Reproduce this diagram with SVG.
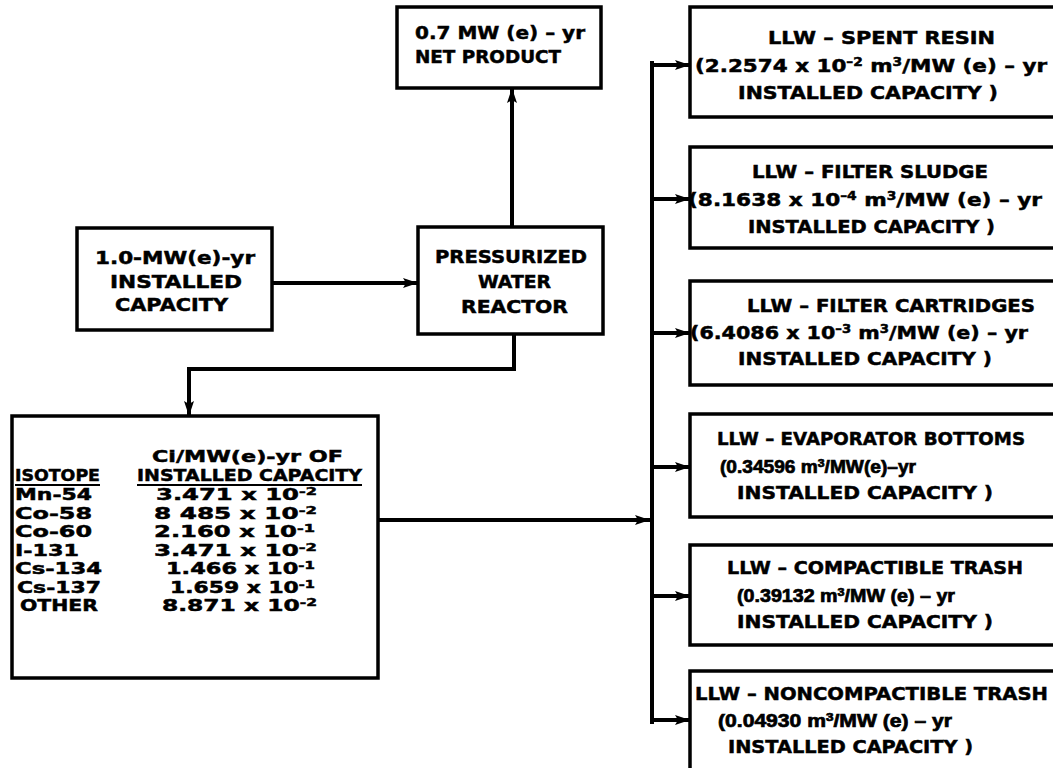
<svg xmlns="http://www.w3.org/2000/svg" width="1053" height="768" viewBox="0 0 1053 768">
<defs>
<marker id="ah" markerUnits="userSpaceOnUse" markerWidth="16" markerHeight="12" refX="15" refY="6" orient="auto">
<path d="M0,1 L15,6 L0,11 L3,6 z" fill="#000"/>
</marker>
<style>
.box{fill:#fff;stroke:#000;stroke-width:3.5}
.ln{fill:none;stroke:#000;stroke-width:4}
text{font-family:"DejaVu Sans","Liberation Sans",sans-serif;font-weight:bold;fill:#000;stroke:#000;stroke-width:0.5}
.lib{font-family:"Liberation Sans","DejaVu Sans",sans-serif;stroke-width:0.7}
.t18{font-size:18px}
.t16{font-size:16.5px}
.sup{font-size:11.5px}
.sup11{font-size:11px}
.ul{stroke:#000;stroke-width:2}
</style>
</defs>
<rect width="1053" height="768" fill="#fff"/>

<g id="connectors">
<path class="ln" d="M272,283 H418" marker-end="url(#ah)"/>
<path class="ln" d="M512,227 V88" marker-end="url(#ah)"/>
<path class="ln" d="M514,334 V369 H189 V416" marker-end="url(#ah)"/>
<path class="ln" d="M378,520 H650" marker-end="url(#ah)"/>
<path class="ln" d="M652,63 V722" stroke-linecap="square"/>
<path class="ln" d="M650,65 H690" marker-end="url(#ah)"/>
<path class="ln" d="M650,199 H690" marker-end="url(#ah)"/>
<path class="ln" d="M650,333 H690" marker-end="url(#ah)"/>
<path class="ln" d="M650,467 H690" marker-end="url(#ah)"/>
<path class="ln" d="M650,596 H690" marker-end="url(#ah)"/>
<path class="ln" d="M650,720 H690" marker-end="url(#ah)"/>
</g>

<g id="net-product">
<rect class="box" x="397" y="7" width="204" height="81"/>
<text class="t18" x="415" y="39" textLength="170" lengthAdjust="spacingAndGlyphs">0.7 MW (e) – yr</text>
<text class="t18" x="415" y="63" textLength="146" lengthAdjust="spacingAndGlyphs">NET PRODUCT</text>
</g>

<g id="installed-capacity">
<rect class="box" x="77" y="228" width="195" height="102"/>
<text class="t18" x="95" y="264" textLength="160" lengthAdjust="spacingAndGlyphs">1.0-MW(e)-yr</text>
<text class="t18" x="110" y="288" textLength="132" lengthAdjust="spacingAndGlyphs">INSTALLED</text>
<text class="t18" x="115" y="311" textLength="113" lengthAdjust="spacingAndGlyphs">CAPACITY</text>
</g>

<g id="pwr">
<rect class="box" x="418" y="227" width="185" height="107"/>
<text class="t18" x="435" y="263" textLength="152" lengthAdjust="spacingAndGlyphs">PRESSURIZED</text>
<text class="t18" x="478" y="288" textLength="73" lengthAdjust="spacingAndGlyphs">WATER</text>
<text class="t18" x="461" y="313" textLength="107" lengthAdjust="spacingAndGlyphs">REACTOR</text>
</g>

<g id="isotope-table">
<rect class="box" x="12" y="416" width="366" height="262"/>
<text class="t16" x="152" y="462" textLength="191" lengthAdjust="spacingAndGlyphs">Ci/MW(e)-yr OF</text>
<text class="t16" x="15" y="481" textLength="85" lengthAdjust="spacingAndGlyphs">ISOTOPE</text>
<text class="t16" x="137" y="481" textLength="225" lengthAdjust="spacingAndGlyphs">INSTALLED CAPACITY</text>
<line class="ul" x1="15" y1="485" x2="100" y2="485"/>
<line class="ul" x1="137" y1="485" x2="362" y2="485"/>
<text class="t16" x="15" y="500" textLength="77" lengthAdjust="spacingAndGlyphs">Mn-54</text>
<text class="t16" x="15" y="518.5" textLength="77" lengthAdjust="spacingAndGlyphs">Co-58</text>
<text class="t16" x="15" y="537" textLength="77" lengthAdjust="spacingAndGlyphs">Co-60</text>
<text class="t16" x="15" y="555.5" textLength="64" lengthAdjust="spacingAndGlyphs">I-131</text>
<text class="t16" x="15" y="574" textLength="87" lengthAdjust="spacingAndGlyphs">Cs-134</text>
<text class="t16" x="17" y="592.5" textLength="84" lengthAdjust="spacingAndGlyphs">Cs-137</text>
<text class="t16" x="20" y="611" textLength="78" lengthAdjust="spacingAndGlyphs">OTHER</text>
<text class="t16" x="156" y="500" textLength="161" lengthAdjust="spacingAndGlyphs">3.471 x 10<tspan class="sup11" dy="-5">-2</tspan></text>
<text class="t16" x="154" y="518.5" textLength="163" lengthAdjust="spacingAndGlyphs">8 485 x 10<tspan class="sup11" dy="-5">-2</tspan></text>
<text class="t16" x="154" y="537" textLength="161" lengthAdjust="spacingAndGlyphs">2.160 x 10<tspan class="sup11" dy="-5">-1</tspan></text>
<text class="t16" x="154" y="555.5" textLength="163" lengthAdjust="spacingAndGlyphs">3.471 x 10<tspan class="sup11" dy="-5">-2</tspan></text>
<text class="t16" x="166" y="574" textLength="149" lengthAdjust="spacingAndGlyphs">1.466 x 10<tspan class="sup11" dy="-5">-1</tspan></text>
<text class="t16" x="170" y="592.5" textLength="145" lengthAdjust="spacingAndGlyphs">1.659 x 10<tspan class="sup11" dy="-5">-1</tspan></text>
<text class="t16" x="162" y="611" textLength="155" lengthAdjust="spacingAndGlyphs">8.871 x 10<tspan class="sup11" dy="-5">-2</tspan></text>
</g>

<g id="llw-spent-resin">
<rect class="box" x="690" y="7" width="380" height="110"/>
<text class="t18" x="768" y="44" textLength="227" lengthAdjust="spacingAndGlyphs">LLW – SPENT RESIN</text>
<text class="t18" x="695" y="72" textLength="352" lengthAdjust="spacingAndGlyphs">(2.2574 x 10<tspan class="sup" dy="-6">–2</tspan><tspan dy="6"> m</tspan><tspan class="sup" dy="-6">3</tspan><tspan dy="6">/MW (e) – yr</tspan></text>
<text class="t18" x="738" y="99" textLength="260" lengthAdjust="spacingAndGlyphs">INSTALLED CAPACITY )</text>
</g>

<g id="llw-filter-sludge">
<rect class="box" x="690" y="147" width="380" height="101"/>
<text class="t18" x="752" y="178" textLength="236" lengthAdjust="spacingAndGlyphs">LLW – FILTER SLUDGE</text>
<text class="t18" x="688" y="206" textLength="354" lengthAdjust="spacingAndGlyphs">(8.1638 x 10<tspan class="sup" dy="-6">–4</tspan><tspan dy="6"> m</tspan><tspan class="sup" dy="-6">3</tspan><tspan dy="6">/MW (e) – yr</tspan></text>
<text class="t18" x="748" y="233" textLength="247" lengthAdjust="spacingAndGlyphs">INSTALLED CAPACITY )</text>
</g>

<g id="llw-filter-cartridges">
<rect class="box" x="690" y="281" width="380" height="104"/>
<text class="t18" x="747" y="312" textLength="288" lengthAdjust="spacingAndGlyphs">LLW – FILTER CARTRIDGES</text>
<text class="t18" x="690" y="339" textLength="338" lengthAdjust="spacingAndGlyphs">(6.4086 x 10<tspan class="sup" dy="-6">–3</tspan><tspan dy="6"> m</tspan><tspan class="sup" dy="-6">3</tspan><tspan dy="6">/MW (e) – yr</tspan></text>
<text class="t18" x="738" y="365" textLength="254" lengthAdjust="spacingAndGlyphs">INSTALLED CAPACITY )</text>
</g>

<g id="llw-evaporator-bottoms">
<rect class="box" x="690" y="414" width="380" height="103"/>
<text class="t18" x="717" y="445" textLength="308" lengthAdjust="spacingAndGlyphs">LLW – EVAPORATOR BOTTOMS</text>
<text class="t18 lib" x="720" y="473" textLength="196" lengthAdjust="spacingAndGlyphs">(0.34596 m<tspan class="sup" dy="-6">3</tspan><tspan dy="6">/MW(e)–yr</tspan></text>
<text class="t18" x="737" y="499" textLength="256" lengthAdjust="spacingAndGlyphs">INSTALLED CAPACITY )</text>
</g>

<g id="llw-compactible-trash">
<rect class="box" x="690" y="545" width="380" height="100"/>
<text class="t18" x="727" y="574" textLength="296" lengthAdjust="spacingAndGlyphs">LLW – COMPACTIBLE TRASH</text>
<text class="t18 lib" x="737" y="602" textLength="218" lengthAdjust="spacingAndGlyphs">(0.39132 m<tspan class="sup" dy="-6">3</tspan><tspan dy="6">/MW (e) – yr</tspan></text>
<text class="t18" x="737" y="628" textLength="256" lengthAdjust="spacingAndGlyphs">INSTALLED CAPACITY )</text>
</g>

<g id="llw-noncompactible-trash">
<rect class="box" x="690" y="671" width="380" height="120"/>
<text class="t18" x="695" y="700" textLength="353" lengthAdjust="spacingAndGlyphs">LLW – NONCOMPACTIBLE TRASH</text>
<text class="t18 lib" x="718" y="727" textLength="234" lengthAdjust="spacingAndGlyphs">(0.04930 m<tspan class="sup" dy="-6">3</tspan><tspan dy="6">/MW (e) – yr</tspan></text>
<text class="t18" x="728" y="753" textLength="245" lengthAdjust="spacingAndGlyphs">INSTALLED CAPACITY )</text>
</g>
</svg>
